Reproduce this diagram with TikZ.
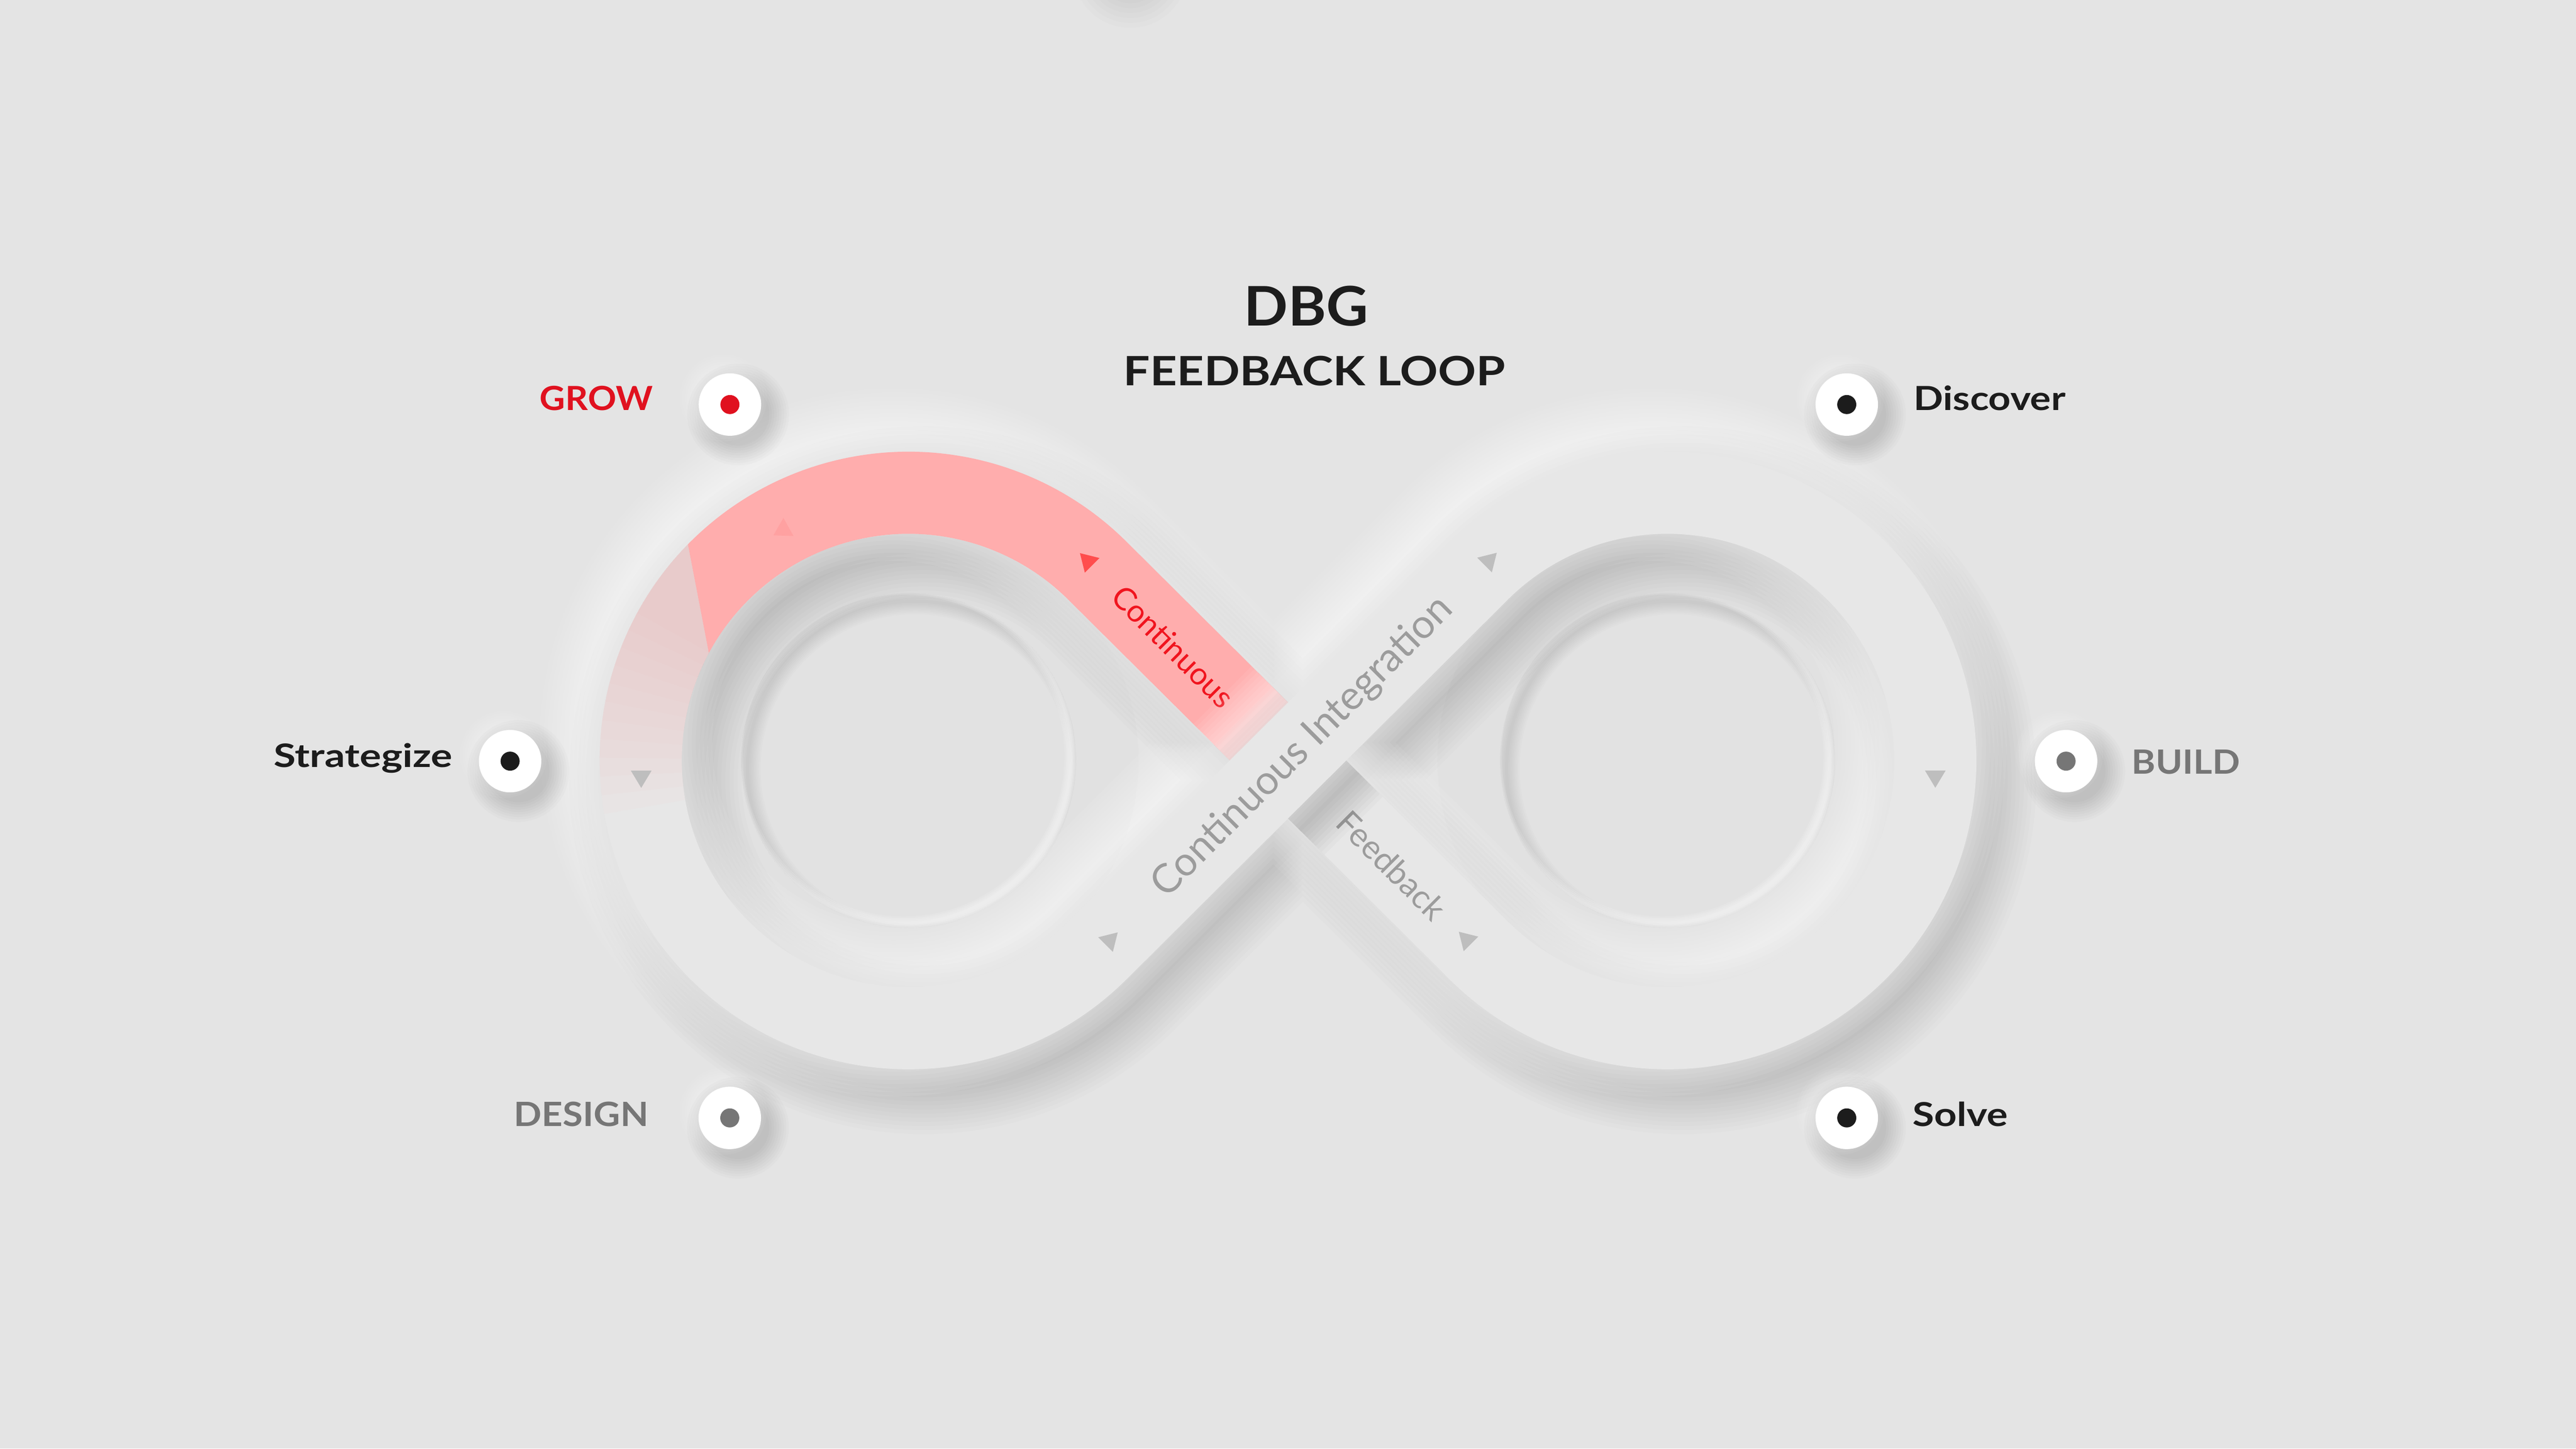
\documentclass[tikz,border=0pt]{standalone}
\usepackage{fontspec}
\setmainfont{Lato}
\usepackage{graphicx}
\definecolor{bgc}{HTML}{E4E4E4}
\definecolor{bandc}{HTML}{E7E7E7}
\definecolor{holec}{HTML}{E1E1E1}
\definecolor{discc}{HTML}{E2E2E2}
\definecolor{darkc}{HTML}{1C1C1C}
\definecolor{greyc}{HTML}{767676}
\definecolor{growc}{HTML}{E0111F}
\definecolor{bandred}{HTML}{F0141E}
\definecolor{bandtxt}{HTML}{9C9C9C}
\definecolor{pinkc}{HTML}{FFADAD}
\definecolor{trigrey}{HTML}{BEBEBE}
\definecolor{trired}{HTML}{FF4D4D}
\newcommand\infpath[1]{\draw[#1] (668.258,534.258) -- (899.742,303.742) arc[start angle=225,end angle=495,radius=163] -- (668.258,303.742) arc[start angle=-45,end angle=-315,radius=163] -- cycle;}
\newcommand\bandtri[4]{\fill[#4, shift={(#1,#2)}, rotate=#3] (6,0) -- (-4.5,6.3) -- (-4.5,-6.3) -- cycle;}
\newcommand\btn[4]{%
  \foreach \w in {0,3,...,24} {\fill[black, opacity=0.016] (#2+5,#3-6) circle[radius=19+\w/2];}
  \foreach \w in {0,3,...,15} {\fill[white, opacity=0.06] (#2-4,#3+4) circle[radius=19+\w/2];}
  \node[circle, fill=white, minimum size=38, inner sep=0] (#1) at (#2,#3) {};
  \fill[#4] (#1.center) circle[radius=5.8];}
\tikzset{lbl/.style={anchor=base west, inner sep=0}, bandlbl/.style={anchor=base, inner sep=0}}
\begin{document}
\begin{tikzpicture}[x=1pt,y=1pt,line cap=butt]
\useasboundingbox (0,0) rectangle (1568,882);
\fill[bgc] (0,0) rectangle (1568,882);
% faint shadow at top edge
\foreach \r in {20,23,...,35} {\fill[black, opacity=0.012] (688,900) circle[radius=\r];}
% holes: ring and inset disc
\foreach \cx in {553,1015} {
  \fill[holec] (\cx,419) circle[radius=140];
  \fill[discc] (\cx,419) circle[radius=102];
  \begin{scope}
    \clip (\cx,419) circle[radius=102];
    \foreach \w in {2,4,...,16} {\draw[black, opacity=0.012, line width=\w] (\cx+4,414) circle[radius=102];}
    \foreach \w in {2,4,6,8} {\draw[white, opacity=0.13, line width=\w] (\cx-3,422) circle[radius=102];}
  \end{scope}
}
% band shadows
\foreach \w in {0,5,...,55} {\infpath{shift={(9,-12)}, line width=50+\w, black, opacity=0.011}}
\foreach \w in {0,5,...,55} {\infpath{shift={(-9,11)}, line width=50+\w, white, opacity=0.07}}
% band
\infpath{line width=50, bandc}
% red highlight (solid part)
\begin{scope}
  \clip (357.1,870.9) -- (480.1,231.9) -- (1000,231.9) -- (1000,870.9) -- cycle;
  \draw[line width=50, pinkc] (553,419) ++(160:163) arc[start angle=160, end angle=45, radius=163] -- (757.13,445.87);
\end{scope}
% red highlight (faded part)
\begin{scope}
  \clip (357.1,870.9) -- (480.1,231.9) -- (0,231.9) -- (0,870.9) -- cycle;
  \foreach \e in {151.5,155,...,190} {\draw[line width=50, pinkc, opacity=0.045] (553,419) ++(130:163) arc[start angle=130, end angle=\e, radius=163];}
\end{scope}
% red end fade near the crossing
\begin{scope}[shift={(784,419)}, rotate=135]
  \foreach \s in {17.7,19.7,...,35.7} {\fill[pinkc, opacity=0.2] (\s,-25) -- (38.5,-25) -- (38.5,25) -- (\s,25) -- cycle;}
\end{scope}
% labels and arrows on the lower band
\node[bandlbl, rotate=-45, text=bandred] (tCont) at (709.2,483.5) {\resizebox{96pt}{!}{Continuous}};
\node[bandlbl, rotate=-45, text=bandtxt] (tFeed) at (841.9,350.0) {\resizebox{84pt}{!}{Feedback}};
\bandtri{390.3}{408.3}{-90}{trigrey}
\bandtri{1178}{408.4}{-90}{trigrey}
\bandtri{661.6}{541}{135}{trired}
\bandtri{892.2}{310.5}{135}{trigrey}
\bandtri{476}{559}{209}{trired, opacity=0.12}
% upper band: shadow cast on lower band
\begin{scope}
  \clip (685.94,551.94) -- (917.42,321.42) -- (882.06,286.06) -- (650.58,516.58) -- cycle;
  \foreach \w in {0,5,...,40} {\draw[shift={(7,-9)}, line width=50+\w, black, opacity=0.018] (668.258,303.742) -- (899.742,534.258);}
  \foreach \w in {0,5,...,40} {\draw[shift={(-7,9)}, line width=50+\w, white, opacity=0.07] (668.258,303.742) -- (899.742,534.258);}
\end{scope}
\draw[line width=50, bandc] (668.258,303.742) -- (899.742,534.258);
\node[bandlbl, rotate=45, text=bandtxt] (tCI) at (797.8,422.3) {\resizebox{248pt}{!}{Continuous Integration}};
\bandtri{676.1}{310.1}{45}{trigrey}
\bandtri{906.8}{541.2}{45}{trigrey}
% buttons
\btn{bGrow}{444.3}{635.7}{growc}
\btn{bDisc}{1124.1}{635.7}{darkc}
\btn{bStrat}{310.5}{418.6}{darkc}
\btn{bBuild}{1257.6}{418.6}{greyc}
\btn{bDesign}{444.2}{201.4}{greyc}
\btn{bSolve}{1124.1}{201.4}{darkc}
% titles and labels
\node[lbl, text=darkc] (tDBG) at (757,683.7) {\resizebox{75.7pt}{24.3pt}{\bfseries DBG}};
\node[lbl, text=darkc] (tFL) at (683.6,647.4) {\resizebox{232.4pt}{18pt}{\bfseries FEEDBACK LOOP}};
\node[lbl, text=growc] (lGrow) at (328.4,632.2) {\resizebox{68.8pt}{14.8pt}{\bfseries GROW}};
\node[lbl, text=darkc] (lDisc) at (1164.7,632.2) {\resizebox{92.4pt}{15pt}{\bfseries Discover}};
\node[lbl, text=darkc] (lStrat) at (166.5,414.9) {\resizebox{108.7pt}{14.6pt}{\bfseries Strategize}};
\node[lbl, text=greyc] (lBuild) at (1297.4,410.8) {\resizebox{65.9pt}{14.7pt}{\bfseries BUILD}};
\node[lbl, text=greyc] (lDesign) at (312.7,196.2) {\resizebox{81.9pt}{14.9pt}{\bfseries DESIGN}};
\node[lbl, text=darkc] (lSolve) at (1164,196.2) {\resizebox{58pt}{14.9pt}{\bfseries Solve}};
\end{tikzpicture}
\end{document}
